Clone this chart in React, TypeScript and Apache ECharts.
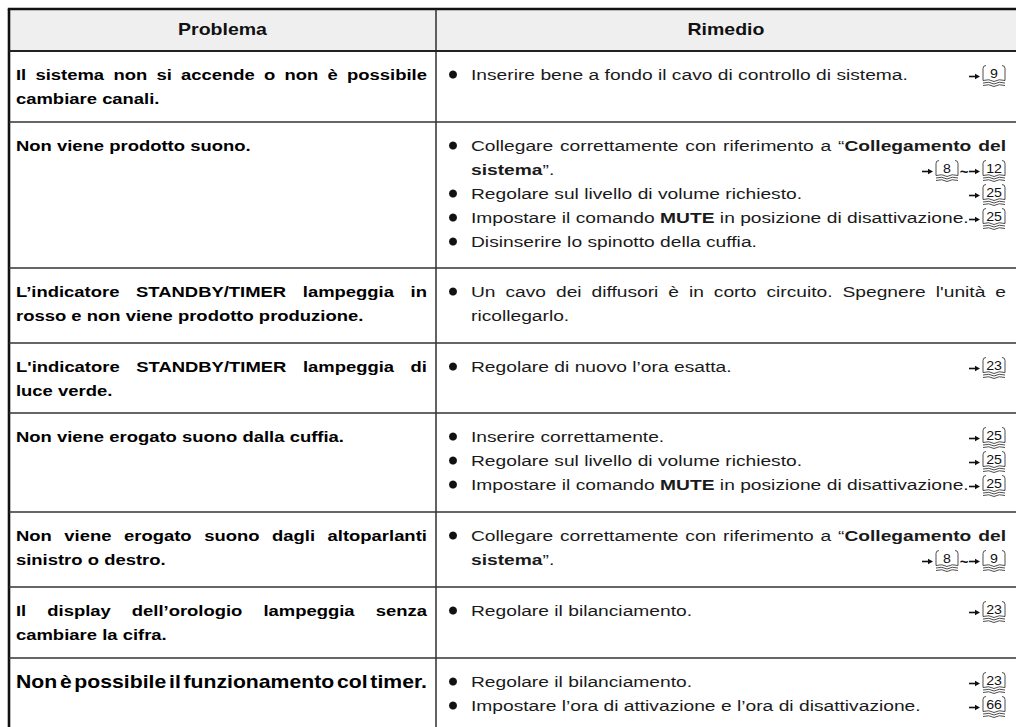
import React, { useEffect, useRef } from "react";
import * as echarts from "echarts";

// ---------------- data ----------------
const headerLabels = ["Problema", "Rimedio"];

const problemLines: string[][] = [
  ["Il sistema non si accende o non è possibile", "cambiare canali."],
  ["Non viene prodotto suono."],
  ["L’indicatore STANDBY/TIMER lampeggia in", "rosso e non viene prodotto produzione."],
  ["L'indicatore STANDBY/TIMER lampeggia di", "luce verde."],
  ["Non viene erogato suono dalla cuffia."],
  ["Non viene erogato suono dagli altoparlanti", "sinistro o destro."],
  ["Il display dell’orologio lampeggia senza", "cambiare la cifra."],
  ["Non è possibile il funzionamento col timer."],
];

type Remedy = { bullet: boolean; text: string; refs?: string[] };

const remedyRows: Remedy[][] = [
  [{ bullet: true, text: "Inserire bene a fondo il cavo di controllo di sistema.", refs: ["9"] }],
  [
    { bullet: true, text: "Collegare correttamente con riferimento a “**Collegamento del**" },
    { bullet: false, text: "**sistema**”.", refs: ["8", "12"] },
    { bullet: true, text: "Regolare sul livello di volume richiesto.", refs: ["25"] },
    { bullet: true, text: "Impostare il comando **MUTE** in posizione di disattivazione.", refs: ["25"] },
    { bullet: true, text: "Disinserire lo spinotto della cuffia." },
  ],
  [
    { bullet: true, text: "Un cavo dei diffusori è in corto circuito. Spegnere l'unità e" },
    { bullet: false, text: "ricollegarlo." },
  ],
  [{ bullet: true, text: "Regolare di nuovo l’ora esatta.", refs: ["23"] }],
  [
    { bullet: true, text: "Inserire correttamente.", refs: ["25"] },
    { bullet: true, text: "Regolare sul livello di volume richiesto.", refs: ["25"] },
    { bullet: true, text: "Impostare il comando **MUTE** in posizione di disattivazione.", refs: ["25"] },
  ],
  [
    { bullet: true, text: "Collegare correttamente con riferimento a “**Collegamento del**" },
    { bullet: false, text: "**sistema**”.", refs: ["8", "9"] },
  ],
  [{ bullet: true, text: "Regolare il bilanciamento.", refs: ["23"] }],
  [
    { bullet: true, text: "Regolare il bilanciamento.", refs: ["23"] },
    { bullet: true, text: "Impostare l’ora di attivazione e l’ora di disattivazione.", refs: ["66"] },
  ],
];

// ---------------- layout ----------------
const W = 1016;
const H = 727;
const LEFT = 9;
const COL = 436;
const RIGHT = 1030;
const TOP = 9;
const HEAD_BOTTOM = 51;
const rowBottoms = [122, 268, 343, 413, 512, 587, 658, 780];
const FIRST_OFFSET = 23.5;
const LINE_H = 24;
const L_X0 = 16;
const L_X1 = 427;
const BULLET_X = 453;
const R_X0 = 471;
const R_X1 = 1006;
const FONT = '"Liberation Sans", Arial, Helvetica, sans-serif';
const SIZE_L = 15.5;
const SIZE_R = 15.5;
const SX_LEFT = 1.19;
const SX_RIGHT = 1.24;
const LARGE_ROW = 7;

const BOOK_PATH =
  "M4,1 Q1,1 1,4 L1,16 Q7,14 12,17 Q17,14 23,16 L23,4 Q23,1 20,1 M1,18.5 Q7,16.5 12,19.5 Q17,16.5 23,18.5 M1,21 Q7,19 12,22 Q17,19 23,21";

let registered = false;
function registerBook() {
  if (registered) return;
  registered = true;
  echarts.graphic.registerShape("bookref", echarts.graphic.extendPath(BOOK_PATH, {}) as any);
}

type Seg = { t: string; b: boolean };

function parseWords(text: string, baseBold: boolean): Seg[][] {
  const segs: Seg[] = [];
  text.split("**").forEach((p, i) => {
    if (p) segs.push({ t: p, b: baseBold || i % 2 === 1 });
  });
  const words: Seg[][] = [[]];
  for (const s of segs) {
    const parts = s.t.split(" ");
    parts.forEach((p, k) => {
      if (k > 0) words.push([]);
      if (p) words[words.length - 1].push({ t: p, b: s.b });
    });
  }
  return words.filter((w) => w.length > 0);
}

function buildGraphics(): any[] {
  const els: any[] = [];
  const canvas = document.createElement("canvas");
  const ctx = canvas.getContext("2d")!;
  const measure = (t: string, bold: boolean, size: number) => {
    ctx.font = `${bold ? "bold " : ""}${size}px ${FONT}`;
    return ctx.measureText(t).width;
  };
  const txt = (
    x: number,
    y: number,
    t: string,
    bold: boolean,
    size: number,
    sx: number,
    align = "left",
    color = "#111"
  ) => ({
    type: "text",
    x,
    y,
    scaleX: sx,
    z: 20,
    silent: true,
    style: {
      text: t,
      fill: color,
      fontSize: size,
      fontWeight: bold ? "bold" : "normal",
      fontFamily: FONT,
      textAlign: align,
      textVerticalAlign: "middle",
      verticalAlign: "middle",
    },
  });
  const line = (x1: number, y1: number, x2: number, y2: number, w: number, c: string) => ({
    type: "line",
    z: 10,
    silent: true,
    shape: { x1, y1, x2, y2 },
    style: { stroke: c, lineWidth: w },
  });

  const layoutLine = (
    text: string,
    x0: number,
    x1: number,
    y: number,
    baseBold: boolean,
    size: number,
    sx: number,
    justify: boolean,
    color: string,
    gapFactor = 1
  ) => {
    const words = parseWords(text, baseBold);
    const widths = words.map((w) => w.reduce((a, s) => a + measure(s.t, s.b, size) * sx, 0));
    const total = widths.reduce((a, b) => a + b, 0);
    let gap = measure(" ", baseBold, size) * sx * gapFactor;
    if (justify && words.length > 1) gap = (x1 - x0 - total) / (words.length - 1);
    let x = x0;
    words.forEach((w, i) => {
      let wx = x;
      w.forEach((s) => {
        els.push(txt(wx, y, s.t, s.b, size, sx, "left", color));
        wx += measure(s.t, s.b, size) * sx;
      });
      x += widths[i] + gap;
    });
  };

  // page ref: arrow + book icon, right aligned at xr; returns left x
  const ref = (xr: number, y: number, label: string) => {
    const ix = xr - 24;
    const iy = y - 10;
    els.push({
      type: "bookref",
      x: ix,
      y: iy,
      z: 15,
      silent: true,
      style: { stroke: "#222", fill: "none", lineWidth: 0.8 },
    });
    els.push(txt(ix + 12, y - 1, label, false, 13.5, 1.05, "center", "#111"));
    const ax = ix - 13;
    els.push(line(ax, y + 2, ax + 7, y + 2, 1.6, "#111"));
    els.push({
      type: "polygon",
      z: 15,
      silent: true,
      shape: { points: [[ax + 6, y - 0.8], [ax + 11, y + 2], [ax + 6, y + 4.8]] },
      style: { fill: "#111" },
    });
    return ax;
  };

  // header background
  els.push({
    type: "rect",
    z: 1,
    silent: true,
    shape: { x: LEFT, y: TOP, width: RIGHT - LEFT, height: HEAD_BOTTOM - TOP },
    style: { fill: "#efefef" },
  });
  els.push(txt((LEFT + COL) / 2, 30, headerLabels[0], true, 16, 1.22, "center", "#111"));
  els.push(txt((COL + 1016) / 2, 30, headerLabels[1], true, 16, 1.22, "center", "#111"));

  // borders
  els.push(line(LEFT - 1.2, TOP, RIGHT, TOP, 2.6, "#111"));
  els.push(line(LEFT, TOP, LEFT, H + 10, 2.6, "#111"));
  els.push(line(LEFT, HEAD_BOTTOM, RIGHT, HEAD_BOTTOM, 2, "#222"));
  els.push(line(COL, TOP, COL, H + 10, 1.4, "#222"));
  rowBottoms.forEach((yb) => els.push(line(LEFT, yb, RIGHT, yb, 1.6, "#333")));

  // rows
  problemLines.forEach((lines, r) => {
    const top = r === 0 ? HEAD_BOTTOM : rowBottoms[r - 1];
    lines.forEach((t, i) => {
      const y = top + FIRST_OFFSET + i * LINE_H;
      if (r === LARGE_ROW) {
        const size = 18;
        const words = parseWords(t, true);
        const natWords = words.reduce((a, w) => a + w.reduce((b, s) => b + measure(s.t, true, size), 0), 0);
        const natGaps = (words.length - 1) * measure(" ", true, size) * 0.45;
        const sx = (L_X1 - L_X0) / (natWords + natGaps);
        layoutLine(t, L_X0, L_X1, y, true, size, sx, true, "#000");
      } else {
        layoutLine(t, L_X0, L_X1, y, true, SIZE_L, SX_LEFT, i < lines.length - 1, "#000");
      }
    });
    const rem = remedyRows[r];
    rem.forEach((item, i) => {
      const y = top + FIRST_OFFSET + i * LINE_H;
      if (item.bullet) {
        els.push({
          type: "circle",
          z: 20,
          silent: true,
          shape: { cx: BULLET_X, cy: y, r: 4 },
          style: { fill: "#111" },
        });
      }
      const next = rem[i + 1];
      const justify = !!next && !next.bullet;
      layoutLine(item.text, R_X0, R_X1, y, false, SIZE_R, SX_RIGHT, justify, "#1a1a1a");
      if (item.refs) {
        if (item.refs.length === 1) {
          ref(R_X1, y, item.refs[0]);
        } else {
          const l = ref(R_X1, y, item.refs[1]);
          els.push(txt(l - 5, y + 2, "~", true, 15, 1, "center", "#111"));
          ref(l - 10, y, item.refs[0]);
        }
      }
    });
  });

  return els;
}

export default function App() {
  const ref = useRef<HTMLDivElement>(null);
  useEffect(() => {
    if (!ref.current) return;
    registerBook();
    const chart = echarts.init(ref.current, null, { renderer: "svg" });
    chart.setOption({
      animation: false,
      backgroundColor: "#ffffff",
      graphic: { elements: buildGraphics() },
    });
    return () => chart.dispose();
  }, []);
  return (
    <div
      ref={ref}
      style={{ position: "fixed", left: 0, top: 0, width: W, height: H, background: "#fff" }}
    />
  );
}
